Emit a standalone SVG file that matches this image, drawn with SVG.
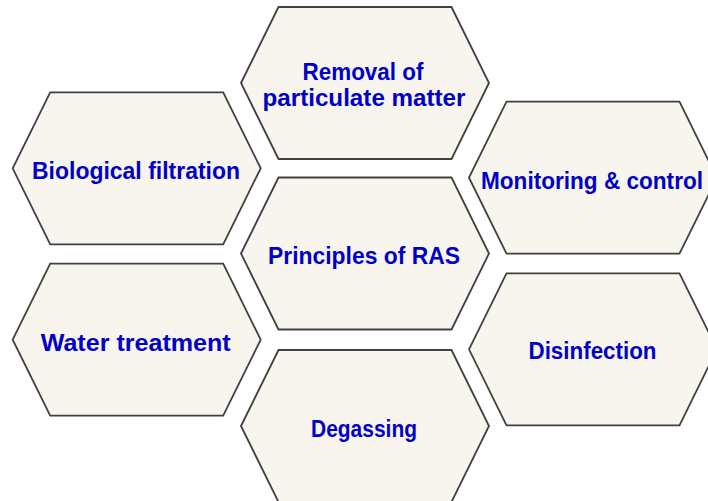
<svg xmlns="http://www.w3.org/2000/svg" xmlns:xlink="http://www.w3.org/1999/xlink" width="708" height="501" viewBox="0 0 708 501">
  <style>
    .hex { fill: #f7f5ee; stroke: #404040; stroke-width: 1.8; stroke-linejoin: miter; }
    .label { font-family: "Liberation Sans", "DejaVu Sans", sans-serif; font-weight: bold; font-size: 23px; fill: #0000c8; text-anchor: middle; }
  </style>
  <defs>
    <!-- flat-topped hexagon, 248 x 152 -->
    <polygon id="hex" points="0,76 37.5,0 210.5,0 248,76 210.5,152 37.5,152"/>
  </defs>
  <rect width="708" height="501" fill="#ffffff"/>

  <g id="removal">
    <use xlink:href="#hex" href="#hex" class="hex" x="241" y="7"/>
    <text class="label" x="363" y="80" textLength="121" lengthAdjust="spacingAndGlyphs">Removal of</text>
    <text class="label" x="364" y="106" textLength="203" lengthAdjust="spacingAndGlyphs">particulate matter</text>
  </g>

  <g id="biological">
    <use xlink:href="#hex" href="#hex" class="hex" x="12.7" y="92.3"/>
    <text class="label" x="136" y="179.3" textLength="208" lengthAdjust="spacingAndGlyphs">Biological filtration</text>
  </g>

  <g id="monitoring">
    <use xlink:href="#hex" href="#hex" class="hex" x="469" y="101.7"/>
    <text class="label" x="592" y="189" textLength="222" lengthAdjust="spacingAndGlyphs">Monitoring &amp; control</text>
  </g>

  <g id="principles">
    <use xlink:href="#hex" href="#hex" class="hex" x="241" y="177.5"/>
    <text class="label" x="364" y="264.3" textLength="192" lengthAdjust="spacingAndGlyphs">Principles of RAS</text>
  </g>

  <g id="water">
    <use xlink:href="#hex" href="#hex" class="hex" x="12.7" y="263.7"/>
    <text class="label" x="135.7" y="351" textLength="190" lengthAdjust="spacingAndGlyphs">Water treatment</text>
  </g>

  <g id="disinfection">
    <use xlink:href="#hex" href="#hex" class="hex" x="469" y="273.3"/>
    <text class="label" x="592.5" y="359.3" textLength="128" lengthAdjust="spacingAndGlyphs">Disinfection</text>
  </g>

  <g id="degassing">
    <use xlink:href="#hex" href="#hex" class="hex" x="241" y="350"/>
    <text class="label" x="364" y="436.7" textLength="106" lengthAdjust="spacingAndGlyphs">Degassing</text>
  </g>
</svg>
